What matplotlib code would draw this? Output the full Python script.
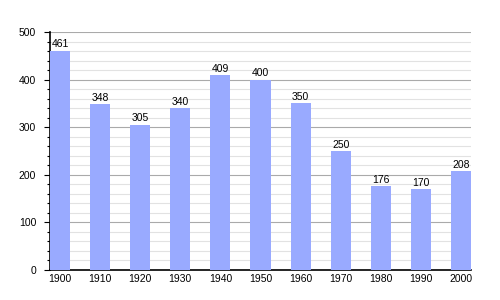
import matplotlib
matplotlib.use("Agg")
import matplotlib.pyplot as plt
import numpy as np

years = ["1900", "1910", "1920", "1930", "1940", "1950", "1960", "1970", "1980", "1990", "2000"]
population = [461, 348, 305, 340, 409, 400, 350, 250, 176, 170, 208]

plt.rcParams["font.family"] = ["Liberation Sans", "DejaVu Sans"]

fig = plt.figure(figsize=(5, 3), dpi=100)
ax = fig.add_axes([0.1, 0.1, 0.842, 0.793])

x = np.arange(len(years))
ax.bar(x, population, width=0.5, color="#99aaff", zorder=3)
for xi, v in zip(x, population):
    ax.text(xi, v + 3, str(v), ha="center", va="bottom", fontsize=7.5, zorder=4)

ax.set_xlim(-0.25, len(years) - 0.75)
ax.set_ylim(0, 500)
ax.set_xticks(x)
ax.set_xticklabels(years)
ax.set_yticks(np.arange(0, 501, 100))
ax.set_yticks(np.arange(0, 501, 20), minor=True)

ax.grid(axis="y", which="major", color="#aaaaaa", linewidth=0.8, zorder=0)
ax.grid(axis="y", which="minor", color="#e2e2e2", linewidth=0.8, zorder=0)

for side in ["top", "right"]:
    ax.spines[side].set_visible(False)
ax.spines["left"].set_linewidth(1.2)
ax.spines["bottom"].set_linewidth(1.2)

ax.tick_params(axis="y", which="major", length=4, width=0.8, labelsize=7.5, pad=6)
ax.tick_params(axis="y", which="minor", length=2, width=0.8)
ax.tick_params(axis="x", length=0, labelsize=7.5, pad=3)

fig.savefig("out.png")
